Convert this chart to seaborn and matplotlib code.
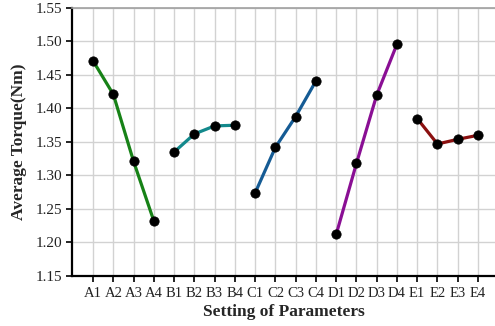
import pandas as pd
import seaborn as sns
import matplotlib.pyplot as plt

# Valores
grupos = ['A', 'B', 'C', 'D', 'E']
niveis = ['1', '2', '3', '4']
torque_A = [1.471, 1.421, 1.321, 1.232]
torque_B = [1.335, 1.362, 1.374, 1.375]
torque_C = [1.274, 1.342, 1.388, 1.441]
torque_D = [1.212, 1.318, 1.420, 1.496]
torque_E = [1.385, 1.347, 1.354, 1.360]
cores = ['#178217', '#13898c', '#155b94', '#8a0f94', '#8b1010']

valores = [torque_A, torque_B, torque_C, torque_D, torque_E]
linhas = []
pos = 0
for g, vals in zip(grupos, valores):
    for n, v in zip(niveis, vals):
        linhas.append({'grupo': g, 'rotulo': g + n, 'pos': pos, 'torque': v})
        pos += 1
df = pd.DataFrame(linhas)

sns.set_style('white')
plt.rcParams['font.family'] = ['Liberation Serif', 'DejaVu Serif']

fig = plt.figure(figsize=(4.95, 3.26), dpi=100)
ax = fig.add_axes([0.1455, 0.1534, 0.8545, 0.8221])

ax.grid(True, color='#d2d2d2', linewidth=1.0, zorder=0)
ax.set_axisbelow(True)

for g, c in zip(grupos, cores):
    sub = df[df['grupo'] == g]
    sns.lineplot(data=sub, x='pos', y='torque', color=c, linewidth=2.3,
                 ax=ax, zorder=2)
sns.scatterplot(data=df, x='pos', y='torque', color='black', s=45,
                edgecolor='black', ax=ax, zorder=3)

ax.set_xlim(-1.04, 19.84)
ax.set_ylim(1.15, 1.55)
ax.set_xticks(df['pos'])
ax.set_xticklabels(df['rotulo'])
ax.set_yticks([1.15 + 0.05 * i for i in range(9)])
ax.set_yticklabels([f'{1.15 + 0.05 * i:.2f}' for i in range(9)])

ax.tick_params(axis='x', direction='out', length=4, width=1.2, color='black',
               labelsize=10.5, pad=4, labelcolor='#222222')
ax.tick_params(axis='y', direction='out', length=4, width=1.2, color='black',
               labelsize=11, pad=3, labelcolor='#222222')
ax.tick_params(bottom=True, left=True)

for s in ['left', 'bottom']:
    ax.spines[s].set_color('black')
    ax.spines[s].set_linewidth(1.6)
ax.spines['top'].set_color('#a0a0a0')
ax.spines['top'].set_linewidth(1.2)
ax.spines['right'].set_visible(False)

ax.set_xlabel('Setting of Parameters', fontsize=12.5, fontweight='bold', labelpad=3)
ax.set_ylabel('Average Torque(Nm)', fontsize=12.5, fontweight='bold', labelpad=6)

fig.savefig('out.png', dpi=100)
